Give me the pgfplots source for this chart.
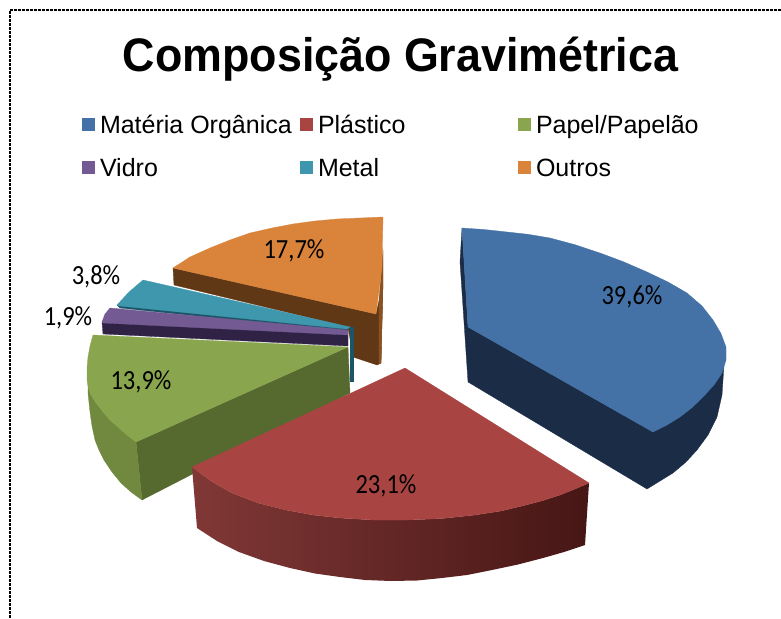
\documentclass[border=0pt]{standalone}
\usepackage{fontspec}
\setmainfont{Liberation Sans}
\newfontfamily\carlito{Carlito}
\usepackage{pgfplots}
\pgfplotsset{compat=1.18}
\definecolor{cblue}{HTML}{4472A6}
\definecolor{dblue}{HTML}{1B2D46}
\definecolor{cred}{HTML}{A84442}
\definecolor{cgreen}{HTML}{89A54E}
\definecolor{sgreen}{HTML}{70893F}
\definecolor{dgreen}{HTML}{566A30}
\definecolor{cpurple}{HTML}{735A92}
\definecolor{dpurple}{HTML}{2F2245}
\definecolor{cteal}{HTML}{3F97AE}
\definecolor{dteal}{HTML}{1C5568}
\definecolor{corange}{HTML}{D9833B}
\definecolor{dorange}{HTML}{613815}
\definecolor{sorange}{HTML}{8A5220}
\newcommand\poly[2]{\addplot[forget plot,no markers,draw=#1,line width=0.3pt,fill=#1] coordinates {#2} --cycle;}
\newcommand\lab[2]{\node[font=\carlito\fontsize{24.5}{26}\selectfont,inner sep=0pt] at (axis cs:#1) {\scalebox{1}[1.13]{#2}};}
\newcommand\ent[2]{\makebox[#1][l]{\hspace*{2pt}\strut #2}}
\begin{document}
\begin{tikzpicture}[x=1pt,y=1pt]
\useasboundingbox (0,0) rectangle (781,618);
\begin{axis}[
  at={(0pt,0pt)},anchor=south west,
  width=781pt,height=618pt,scale only axis,
  xmin=0,xmax=781,ymin=0,ymax=618,y dir=reverse,
  hide axis,clip=true,
  legend image code/.code={\fill[#1] (0pt,-6.5pt) rectangle (13pt,6.5pt);},
  legend columns=3,
  legend cell align=left,
  legend style={at={(axis cs:82,114)},anchor=north west,draw=none,fill=none,inner sep=0pt,outer sep=0pt,
    font=\fontsize{25}{28}\selectfont,
    /tikz/row sep=22pt,/tikz/column sep=0pt,
    nodes={inner xsep=3pt,inner ysep=0pt}},
]
\addlegendimage{fill=cblue,draw=none}\addlegendentry{\ent{199pt}{Matéria Orgânica}}
\addlegendimage{fill=cred,draw=none}\addlegendentry{\ent{199pt}{Plástico}}
\addlegendimage{fill=cgreen,draw=none}\addlegendentry{\ent{170pt}{Papel/Papelão}}
\addlegendimage{fill=cpurple,draw=none}\addlegendentry{\ent{199pt}{Vidro}}
\addlegendimage{fill=cteal,draw=none}\addlegendentry{\ent{199pt}{Metal}}
\addlegendimage{fill=corange,draw=none}\addlegendentry{\ent{170pt}{Outros}}
% frame
\addplot[forget plot,no markers,black,line width=1.8pt,dash pattern=on 3pt off 1pt] coordinates {(10,618) (10,10) (781,10)};
% orange
\poly{dorange}{(173,268)(174,285)(348,327)(353,357)(377,365)(381,363)(383,283)(376,314)}
\poly{sorange}{(379,300)(383,250)(383,283)(381,363)(379,364)}
\poly{corange}{(173,268)(190,257)(210,248)(230,240)(250,233)(272,228)(293,224)(315,221)(337,219)(360,218)(383,217)(382,267)(376,314)}
% teal
\poly{dteal}{(350,327)(353,327)(353,381)(350,381)}
\poly{dteal}{(117,305)(120,308)(347,332)(350,327)}
\poly{cteal}{(117,305)(129,292)(143,280)(350,327)(347,329)(120,306)}
% purple
\poly{dpurple}{(102,322)(103,334)(348,346)(348,330)}
\poly{cpurple}{(102,322)(105,314)(110,308)(348,330)(348,335)(103,323)}
% green
\poly{dgreen}{(136,442)(348,347)(350,393)(142,500)}
\poly{sgreen}{(88,375)(90,393)(96,403)(104,413)(110,420)(119,428)(127,435)(136,442)(142,500)(131,492)(121,483)(112,472)(104,460)(99,450)(95,440)(92,426)(90,412)(88,393)}
\poly{cgreen}{(93,335)(348,347)(136,442)(127,435)(119,428)(110,420)(104,413)(96,403)(90,393)(88,386)(87,380)(87,368)(88,357)(90,346)}
% red
\addplot[forget plot,no markers,draw=none,left color={rgb,255:red,128;green,56;blue,54},right color={rgb,255:red,70;green,22;blue,21}]
  coordinates {(192,467)(211,481)(232,493)(258,503)(286,510)(313,515)(340,518)(374,520)(408,520)(442,518.5)(475,515)(501,511)(526,505)(543,500.5)(560,495)(575,489)(589,483)(585,545)(564,552)(543,558)(518,564.5)(492,570)(467,575)(442,578)(417,580.5)(391,581)(365,580)(340,577)(315,573.5)(290,568)(264,561)(239,552)(217,541)(197,528)} --cycle;
\poly{cred}{(405,368)(589,483)(575,489)(560,495)(543,500.5)(526,505)(501,511)(475,515)(442,518.5)(408,520)(374,520)(340,518)(313,515)(286,510)(258,503)(232,493)(211,481)(192,467)}
% blue
\poly{dblue}{(462,228)(460,262)(468,382)(647,489)(660,481)(673,473)(686,462)(697,450)(708,435)(717,417)(722,395)(724,365)(653,432)(468,327)}
\poly{cblue}{(462,228)(484,229.5)(507,232)(528,234.3)(550,238)(575,244.7)(600,253)(624,262)(647,272)(668,282)(687,293)(702,306)(713,320)(721,333.6)(726,347)(726,360)(722,373)(714,385)(703,397)(692,407.6)(680,417)(667,425)(653,432)(468,327)}
% labels
\lab{632,296.5}{39,6\%}
\lab{386,486}{23,1\%}
\lab{141,381.5}{13,9\%}
\lab{294,250.5}{17,7\%}
\lab{96,276.5}{3,8\%}
\lab{68,317.5}{1,9\%}
\node[font=\bfseries\fontsize{44.8}{50}\selectfont,inner sep=0pt] at (axis cs:400.5,59) {\scalebox{1}[1.05]{Composição Gravimétrica}};
\end{axis}
\end{tikzpicture}
\end{document}
